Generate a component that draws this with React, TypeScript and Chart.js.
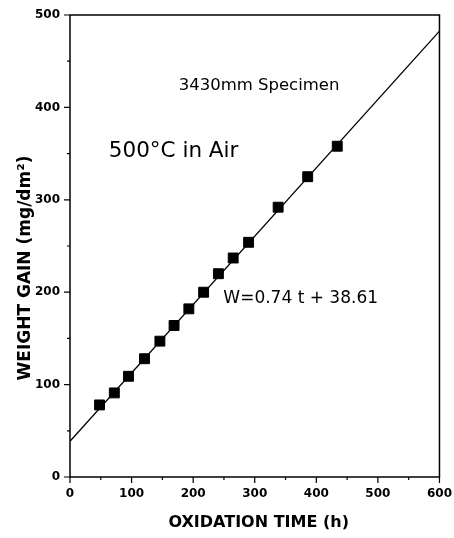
import React, { useEffect, useRef } from 'react';
import { Chart, registerables } from 'chart.js';

Chart.register(...registerables);

// ---- data ----
const oxidationTime = [48, 72, 95, 121, 146, 169, 193, 217, 241, 265, 290, 338, 386, 434];
const weightGain = [78, 91, 109, 128, 147, 164, 182, 200, 220, 237, 254, 292, 325, 358];
const fitTime = [0, 600];
const fitGain = [38.61, 482.61];
const xTickValues = [0, 100, 200, 300, 400, 500, 600];
const yTickValues = [0, 100, 200, 300, 400, 500];
const xMinorTicks = [50, 150, 250, 350, 450, 550];
const yMinorTicks = [50, 150, 250, 350, 450];

const specimenLabel = '3430mm Specimen';
const conditionLabel = '500°C in Air';
const equationLabel = 'W=0.74 t + 38.61';
const xTitle = 'OXIDATION TIME (h)';
const yTitle = 'WEIGHT GAIN (mg/dm²)';

// annotation anchors in data coordinates
const specimenAt = { x: 307, y: 419 };
const conditionAt = { x: 63, y: 346 };
const equationAt = { x: 249, y: 188 };

const FONT = 'DejaVu Sans';

const framePlugin = {
  id: 'frameAndText',
  afterDraw(chart: any) {
    const { ctx, chartArea: a } = chart;
    const xs = chart.scales.x;
    const ys = chart.scales.y;
    ctx.save();
    ctx.strokeStyle = '#000';
    ctx.lineWidth = 1.5;
    ctx.strokeRect(a.left, a.top, a.right - a.left, a.bottom - a.top);

    ctx.lineWidth = 1.2;
    ctx.beginPath();
    xTickValues.forEach((v) => {
      const p = xs.getPixelForValue(v);
      ctx.moveTo(p, a.bottom);
      ctx.lineTo(p, a.bottom + 6);
    });
    xMinorTicks.forEach((v) => {
      const p = xs.getPixelForValue(v);
      ctx.moveTo(p, a.bottom);
      ctx.lineTo(p, a.bottom + 3);
    });
    yTickValues.forEach((v) => {
      const p = ys.getPixelForValue(v);
      ctx.moveTo(a.left, p);
      ctx.lineTo(a.left - 6, p);
    });
    yMinorTicks.forEach((v) => {
      const p = ys.getPixelForValue(v);
      ctx.moveTo(a.left, p);
      ctx.lineTo(a.left - 3, p);
    });
    ctx.stroke();

    ctx.fillStyle = '#000';
    ctx.textBaseline = 'alphabetic';

    ctx.font = `16.5px "${FONT}"`;
    ctx.textAlign = 'center';
    ctx.fillText(specimenLabel, xs.getPixelForValue(specimenAt.x), ys.getPixelForValue(specimenAt.y));

    ctx.font = `21.5px "${FONT}"`;
    ctx.textAlign = 'left';
    ctx.fillText(conditionLabel, xs.getPixelForValue(conditionAt.x), ys.getPixelForValue(conditionAt.y));

    ctx.font = `17px "${FONT}"`;
    ctx.textAlign = 'left';
    ctx.fillText(equationLabel, xs.getPixelForValue(equationAt.x), ys.getPixelForValue(equationAt.y));

    ctx.font = `bold 16px "${FONT}"`;
    ctx.textAlign = 'center';
    ctx.fillText(xTitle, (a.left + a.right) / 2 + 4, a.bottom + 50);

    ctx.save();
    ctx.translate(a.left - 40, (a.top + a.bottom) / 2 + 22);
    ctx.rotate(-Math.PI / 2);
    ctx.font = `bold 17px "${FONT}"`;
    ctx.textAlign = 'center';
    ctx.fillText(yTitle, 0, 0);
    ctx.restore();

    ctx.restore();
  },
};

export default function App() {
  const ref = useRef<HTMLCanvasElement>(null);

  useEffect(() => {
    const canvas = ref.current;
    if (!canvas) return;
    const tickFont = { family: FONT, size: 12, weight: 'bold' as const };
    const chart = new Chart(canvas, {
      type: 'scatter',
      data: {
        datasets: [
          {
            type: 'line',
            data: fitTime.map((t, i) => ({ x: t, y: fitGain[i] })),
            borderColor: '#000',
            borderWidth: 1.3,
            pointRadius: 0,
            fill: false,
            tension: 0,
            order: 2,
          } as any,
          {
            type: 'scatter',
            data: oxidationTime.map((t, i) => ({ x: t, y: weightGain[i] })),
            pointStyle: 'rect',
            pointRadius: 7,
            backgroundColor: '#000',
            borderColor: '#000',
            borderWidth: 1,
            order: 1,
          } as any,
        ],
      },
      options: {
        responsive: false,
        animation: false,
        layout: { padding: { top: 15, right: 13, left: 0, bottom: 0 } },
        plugins: { legend: { display: false }, tooltip: { enabled: false } },
        scales: {
          x: {
            type: 'linear',
            min: 0,
            max: 600,
            afterBuildTicks: (s: any) => {
              s.ticks = xTickValues.map((v) => ({ value: v }));
            },
            afterFit: (s: any) => {
              s.height = 61;
            },
            grid: { display: true, drawOnChartArea: false, drawTicks: true, tickLength: 8, color: 'rgba(0,0,0,0)' },
            border: { display: false },
            ticks: { font: tickFont, color: '#000', padding: 2, maxRotation: 0, autoSkip: false },
          },
          y: {
            type: 'linear',
            min: 0,
            max: 500,
            afterBuildTicks: (s: any) => {
              s.ticks = yTickValues.map((v) => ({ value: v }));
            },
            afterFit: (s: any) => {
              s.width = 70;
            },
            grid: { display: true, drawOnChartArea: false, drawTicks: true, tickLength: 8, color: 'rgba(0,0,0,0)' },
            border: { display: false },
            ticks: { font: tickFont, color: '#000', padding: 2, autoSkip: false },
          },
        },
      },
      plugins: [framePlugin],
    });
    return () => chart.destroy();
  }, []);

  return (
    <div style={{ position: 'absolute', left: 0, top: 0, width: 454, height: 538, background: '#fff' }}>
      <canvas ref={ref} width={454} height={538} style={{ width: 454, height: 538 }} />
    </div>
  );
}
